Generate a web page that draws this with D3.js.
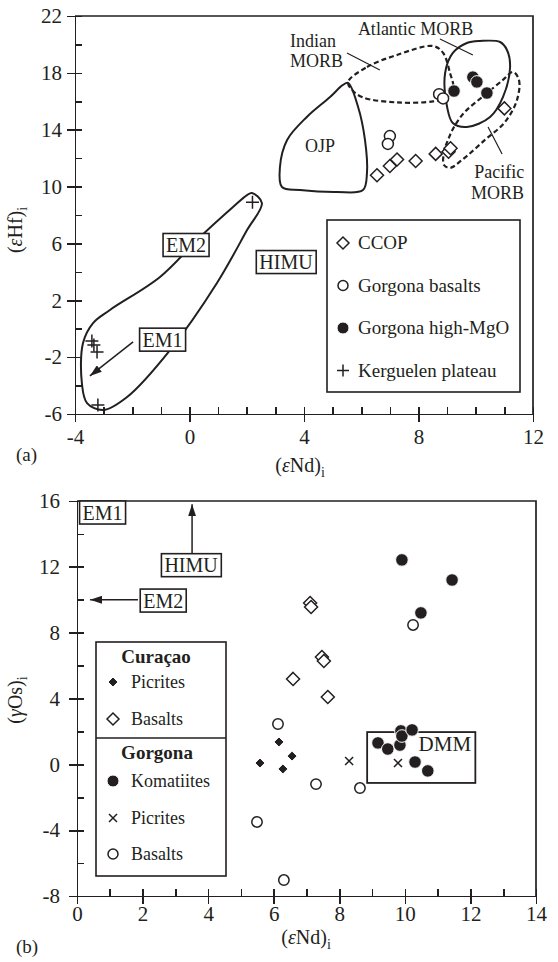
<!DOCTYPE html>
<html lang="en">
<head>
<meta charset="utf-8"/>
<style>
    body { margin: 0; background: #fff; }
    svg text { font-family: 'Liberation Serif', 'Times New Roman', 'DejaVu Serif', serif; fill: #231f20; }
    .ax path, .ax line { stroke: #231f20; stroke-width: 1.7px; shape-rendering: crispEdges; }
    .ax text { font-size: 21px; }
    .frame { fill: none; stroke: #231f20; stroke-width: 1.7px; }
    .field { fill: none; stroke: #231f20; stroke-width: 2px; }
    .field.dash { stroke-dasharray: 5,3; stroke-width: 2.2px; }
    .box { fill: #fff; stroke: #231f20; stroke-width: 1.6px; }
    .lbl { font-size: 18px; }
    .open { fill: #fff; stroke: #231f20; stroke-width: 1.5px; }
    .solid { fill: #231f20; stroke: #fff; stroke-width: 1px; }
    .stroke { fill: none; stroke: #231f20; stroke-width: 1.5px; }
    .lead { stroke: #231f20; stroke-width: 1.2px; }
</style>
<script src="https://d3js.org/d3.v7.min.js"></script>
</head>
<body>
<svg id="chart" width="558" height="962" font-family="'Liberation Serif', 'Times New Roman', serif">
    <defs>
        <marker id="head" viewBox="0 0 12 8" refX="12" refY="4" markerWidth="12" markerHeight="8"
                markerUnits="userSpaceOnUse" orient="auto">
            <path d="M0,0 L12,4 L0,8 Z" fill="#231f20"/>
        </marker>
    </defs>
</svg>
<script>
    // ---------- panel (a): (eNd)i vs (eHf)i ----------
    var aXTicks = [-4, 0, 4, 8, 12];
    var aYTicks = [-6, -2, 2, 6, 10, 14, 18, 22];
    var ccop = [[6.55, 10.8], [7.0, 11.45], [7.25, 11.9], [7.9, 11.8], [8.6, 12.3],
                [9.05, 12.45], [9.12, 12.7], [11.0, 15.5]];
    var gorgBasaltsA = [[8.72, 16.5], [8.86, 16.2], [7.0, 13.55], [6.93, 13.0]];
    var gorgHighMgO = [[9.9, 17.7], [10.04, 17.36], [9.24, 16.72], [10.39, 16.58]];
    var kerguelen = [[2.2, 8.9], [-3.41, -0.86], [-3.34, -1.15], [-3.23, -1.64], [-3.2, -5.37]];

    // field outlines
    var emField = [[2.18, 9.55], [2.53, 8.84], [2.01, 6.94], [0.96, 3.22], [-0.68, -1.5], [-2.18, -4.8],
                   [-3.02, -5.72], [-3.58, -5.23], [-3.76, -3.82], [-3.72, -1.0], [-3.37, 0.4],
                   [-2.78, 1.32], [-1.03, 3.64], [0.37, 6.45], [1.52, 8.56], [2.01, 9.4]];
    var ojpField = [[5.54, 17.29], [5.89, 15.6], [6.13, 13.28], [6.2, 10.96], [6.06, 9.76], [5.15, 9.62],
                    [3.86, 9.76], [3.23, 9.97], [3.16, 11.38], [3.41, 13.28], [4.1, 14.9], [4.91, 16.3],
                    [5.36, 17.15]];
    var indianField = [[5.54, 17.36], [6.2, 18.41], [7.25, 19.26], [8.51, 19.89], [8.86, 19.4],
                       [9.1, 17.99], [9.21, 17.0], [9.0, 16.27], [8.51, 15.99], [7.25, 15.92],
                       [6.06, 16.27], [5.68, 16.79]];
    var atlanticField = [[10.15, 20.24], [10.85, 20.17], [11.09, 19.61], [11.2, 18.41], [10.95, 16.3],
                         [10.5, 14.9], [9.69, 14.19], [9.2, 14.47], [9.0, 15.6], [8.93, 17.99],
                         [9.2, 19.4], [9.69, 20.1]];
    var pacificField = [[11.3, 18.06], [11.51, 17.5], [11.44, 16.09], [11.02, 14.54], [10.32, 13.28],
                        [9.52, 11.87], [9.1, 11.31], [8.89, 11.52], [8.89, 12.43], [9.03, 13.28],
                        [9.24, 14.19], [9.62, 15.25], [10.32, 16.45], [10.95, 17.5]];

    // ---------- panel (b): (eNd)i vs (gOs)i ----------
    var bXTicks = [0, 2, 4, 6, 8, 10, 12, 14];
    var bYTicks = [-8, -4, 0, 4, 8, 12, 16];
    var curPicrites = [[6.16, 1.36], [5.58, 0.08], [6.56, 0.5], [6.28, -0.28]];
    var curBasalts = [[7.11, 9.8], [7.14, 9.56], [7.47, 6.52], [7.53, 6.28], [6.59, 5.19], [7.65, 4.09]];
    var gorKomatiites = [[9.91, 12.42], [11.44, 11.2], [10.49, 9.2], [9.18, 1.3], [9.48, 0.93],
                         [9.85, 1.17], [9.88, 2.03], [9.91, 1.72], [10.22, 2.09], [10.31, 0.14],
                         [10.7, -0.4]];
    var gorPicrites = [[8.3, 0.2], [9.79, 0.08]];
    var gorBasalts = [[10.25, 8.47], [6.13, 2.45], [7.29, -1.2], [8.63, -1.44], [5.49, -3.5], [6.31, -7.03]];
    var dmmBox = [[8.85, -1.13], [12.15, 1.96]];

    var svg = d3.select('#chart');

    var shape = {
        diamond: function(r) { return 'M0,' + (-r) + 'L' + r + ',0L0,' + r + 'L' + (-r) + ',0Z'; },
        plus: function(r) { return 'M' + (-r) + ',0H' + r + 'M0,' + (-r) + 'V' + r; },
        cross: function(r) { return 'M' + (-r) + ',' + (-r) + 'L' + r + ',' + r + 'M' + (-r) + ',' + r + 'L' + r + ',' + (-r); }
    };

    function range(a, b, step) { return d3.range(a, b + step / 2, step); }

    function axes(x, y, xMinorStep, xMajor, yMinorStep, yMajor, padX, padY) {
        var x0 = x.range()[0], x1 = x.range()[1], y0 = y.range()[0], y1 = y.range()[1];
        var xd = x.domain(), yd = y.domain();
        svg.append('g').attr('class', 'ax').attr('transform', 'translate(0,' + y0 + ')')
            .call(d3.axisBottom(x).tickValues(range(xd[0], xd[1], xMinorStep)).tickSize(-7).tickSizeOuter(0).tickFormat(''));
        svg.append('g').attr('class', 'ax').attr('transform', 'translate(0,' + y0 + ')')
            .call(d3.axisBottom(x).tickValues(xMajor).tickSize(8).tickSizeOuter(0).tickPadding(padX))
            .select('.domain').remove();
        svg.append('g').attr('class', 'ax').attr('transform', 'translate(' + x0 + ',0)')
            .call(d3.axisLeft(y).tickValues(range(yd[0], yd[1], yMinorStep)).tickSize(-7).tickSizeOuter(0).tickFormat(''));
        svg.append('g').attr('class', 'ax').attr('transform', 'translate(' + x0 + ',0)')
            .call(d3.axisLeft(y).tickValues(yMajor).tickSize(8).tickSizeOuter(0).tickPadding(padY))
            .select('.domain').remove();
        svg.selectAll('.ax').attr('font-family', null).attr('font-size', null);
        svg.selectAll('.ax text').text(function() { return this.textContent.replace('\u2212', '-'); });
        svg.append('path').attr('class', 'frame').attr('d', 'M' + x0 + ',' + y1 + 'H' + x1 + 'V' + y0);
    }

    function title(x, y, greek, iso, rotate) {
        var t = svg.append('text').attr('class', 'lbl').style('font-size', '20px')
            .attr('text-anchor', 'middle')
            .attr('transform', 'translate(' + x + ',' + y + ')' + (rotate ? ' rotate(-90)' : ''));
        t.append('tspan').text('(');
        t.append('tspan').style('font-style', 'italic').text(greek);
        t.append('tspan').text(iso + ')');
        t.append('tspan').attr('dy', 5).style('font-size', '14px').text('i');
    }

    function field(x, y, pts, dashed) {
        svg.append('path').attr('class', 'field' + (dashed ? ' dash' : ''))
            .attr('d', d3.line().x(function(d) { return x(d[0]); }).y(function(d) { return y(d[1]); })
                .curve(d3.curveCatmullRomClosed.alpha(0.5))(pts));
    }

    function circles(x, y, data, cls, r) {
        svg.append('g').selectAll('circle').data(data).join('circle')
            .attr('class', cls).attr('r', r)
            .attr('cx', function(d) { return x(d[0]); }).attr('cy', function(d) { return y(d[1]); });
    }

    function symbols(x, y, data, cls, kind, r) {
        svg.append('g').selectAll('path').data(data).join('path')
            .attr('class', cls).attr('d', shape[kind](r))
            .attr('transform', function(d) { return 'translate(' + x(d[0]) + ',' + y(d[1]) + ')'; });
    }

    function boxed(cx, cy, label) {
        var g = svg.append('g');
        var t = g.append('text').attr('class', 'lbl').style('font-size', '20px')
            .attr('text-anchor', 'middle').attr('x', cx).attr('y', cy + 7).text(label);
        var b = t.node().getBBox();
        g.insert('rect', 'text').attr('class', 'box')
            .attr('x', b.x - 3).attr('y', cy - 11.5).attr('width', b.width + 6).attr('height', 23);
    }

    function arrow(x1, y1, x2, y2) {
        svg.append('line').attr('stroke', '#231f20').attr('stroke-width', 1.5)
            .attr('x1', x1).attr('y1', y1).attr('x2', x2).attr('y2', y2)
            .attr('marker-end', 'url(#head)');
    }

    function text(x, y, s, anchor, size) {
        return svg.append('text').attr('class', 'lbl').attr('x', x).attr('y', y)
            .attr('text-anchor', anchor || 'start').style('font-size', (size || 18) + 'px').text(s);
    }

    // ================= panel (a) =================
    var xa = d3.scaleLinear().domain([-4, 12]).range([75, 533]);
    var ya = d3.scaleLinear().domain([-6, 22]).range([414, 16]);

    axes(xa, ya, 1, aXTicks, 2, aYTicks, 7, 5);

    field(xa, ya, emField, false);
    field(xa, ya, ojpField, false);
    field(xa, ya, indianField, true);
    field(xa, ya, atlanticField, false);
    field(xa, ya, pacificField, true);

    // leader lines for field names
    [[[5.5, 19.4], [6.65, 18.2]], [[8.75, 20.38], [9.9, 19.26]], [[10.43, 14.19], [10.92, 12.29]]]
        .forEach(function(l) {
            svg.append('line').attr('class', 'lead')
                .attr('x1', xa(l[0][0])).attr('y1', ya(l[0][1]))
                .attr('x2', xa(l[1][0])).attr('y2', ya(l[1][1]));
        });

    text(xa(7.9), ya(20.65), 'Atlantic MORB', 'middle');
    text(xa(3.51), ya(19.82), 'Indian');
    text(xa(3.51), ya(18.41), 'MORB');
    text(xa(11.69), ya(10.6), 'Pacific', 'end');
    text(xa(11.69), ya(9.13), 'MORB', 'end');
    text(xa(4.56), ya(12.43), 'OJP', 'middle');

    symbols(xa, ya, ccop, 'open', 'diamond', 6.5);
    circles(xa, ya, gorgBasaltsA, 'open', 5.5);
    circles(xa, ya, gorgHighMgO, 'solid', 6.3);
    symbols(xa, ya, kerguelen, 'stroke', 'plus', 6.5);

    boxed(xa(-0.12), ya(5.89), 'EM2');
    boxed(xa(3.37), ya(4.69), 'HIMU');
    boxed(xa(-0.94), ya(-0.77), 'EM1');
    arrow(xa(-1.97), ya(-0.93), xa(-3.48), ya(-3.32));

    // legend (a)
    svg.append('rect').attr('class', 'box').attr('x', 327).attr('y', 220).attr('width', 193).attr('height', 172);
    var legA = [['CCOP', 'diamond'], ['Gorgona basalts', 'open'], ['Gorgona high-MgO', 'solid'], ['Kerguelen plateau', 'plus']];
    legA.forEach(function(d, i) {
        var cy = 243 + i * 42.5;
        if (d[1] === 'diamond') svg.append('path').attr('class', 'open').attr('d', shape.diamond(6)).attr('transform', 'translate(343,' + cy + ')');
        else if (d[1] === 'plus') svg.append('path').attr('class', 'stroke').attr('d', shape.plus(6)).attr('transform', 'translate(343,' + cy + ')');
        else svg.append('circle').attr('class', d[1]).attr('cx', 343).attr('cy', cy).attr('r', d[1] === 'solid' ? 6 : 5);
        text(358, cy + 6, d[0], 'start', 19);
    });

    title(300, 472, '\u03b5', 'Nd', false);
    title(22, 230, '\u03b5', 'Hf', true);
    text(16, 461, '(a)', 'start', 19);

    // ================= panel (b) =================
    var xb = d3.scaleLinear().domain([0, 14]).range([77, 536]);
    var yb = d3.scaleLinear().domain([-8, 16]).range([896, 501]);

    axes(xb, yb, 1, bXTicks, 2, bYTicks, 2, 9);

    svg.append('rect').attr('fill', 'none').attr('stroke', '#231f20').attr('stroke-width', 1.8)
        .attr('x', xb(dmmBox[0][0])).attr('y', yb(dmmBox[1][1]))
        .attr('width', xb(dmmBox[1][0]) - xb(dmmBox[0][0]))
        .attr('height', yb(dmmBox[0][1]) - yb(dmmBox[1][1]));
    text(xb(11.22), yb(0.81), 'DMM', 'middle', 21);

    symbols(xb, yb, curBasalts, 'open', 'diamond', 6.5);
    symbols(xb, yb, curPicrites, 'solid', 'diamond', 5);
    circles(xb, yb, gorBasalts, 'open', 5.2);
    symbols(xb, yb, gorPicrites, 'stroke', 'cross', 4);
    circles(xb, yb, gorKomatiites, 'solid', 6.3);

    boxed(xb(0.78), yb(15.3), 'EM1');
    boxed(xb(3.48), yb(12.1), 'HIMU');
    boxed(xb(2.63), yb(9.95), 'EM2');
    arrow(xb(3.51), yb(12.84), xb(3.51), yb(15.8));
    arrow(xb(1.86), yb(10), xb(0.4), yb(10));

    // legend (b)
    svg.append('rect').attr('class', 'box').attr('x', 96).attr('y', 642).attr('width', 130).attr('height', 234);
    svg.append('line').attr('stroke', '#231f20').attr('stroke-width', 1.6).attr('x1', 96).attr('x2', 226).attr('y1', 738).attr('y2', 738);
    text(156, 663, 'Cura\u00e7ao', 'middle', 19).style('font-weight', 'bold');
    text(157, 759, 'Gorgona', 'middle', 19).style('font-weight', 'bold');
    var legB = [['Picrites', 'soliddiamond', 682], ['Basalts', 'opendiamond', 719], ['Komatiites', 'solidcircle', 781],
                ['Picrites', 'cross', 818], ['Basalts', 'opencircle', 854]];
    legB.forEach(function(d) {
        var cy = d[2];
        if (d[1] === 'soliddiamond') svg.append('path').attr('class', 'solid').attr('d', shape.diamond(5)).attr('transform', 'translate(113,' + cy + ')');
        if (d[1] === 'opendiamond') svg.append('path').attr('class', 'open').attr('d', shape.diamond(6)).attr('transform', 'translate(113,' + cy + ')');
        if (d[1] === 'solidcircle') svg.append('circle').attr('class', 'solid').attr('cx', 113).attr('cy', cy).attr('r', 6);
        if (d[1] === 'cross') svg.append('path').attr('class', 'stroke').attr('d', shape.cross(4)).attr('transform', 'translate(113,' + cy + ')');
        if (d[1] === 'opencircle') svg.append('circle').attr('class', 'open').attr('cx', 113).attr('cy', cy).attr('r', 5);
        text(131, cy + 6, d[0]);
    });

    title(306, 944, '\u03b5', 'Nd', false);
    title(22, 700, '\u03b3', 'Os', true);
    text(16, 953, '(b)', 'start', 19);
</script>
</body>
</html>
